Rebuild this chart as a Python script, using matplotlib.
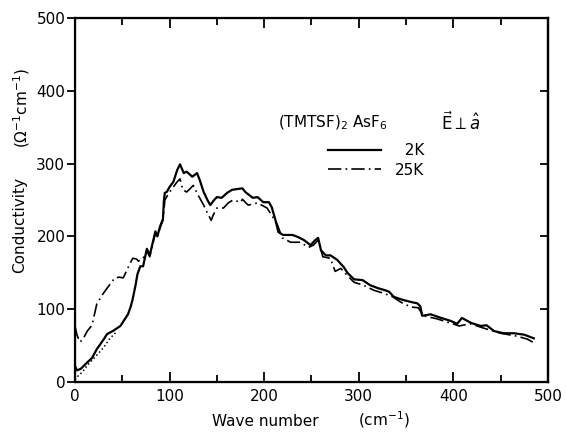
import matplotlib.pyplot as plt
from matplotlib.ticker import MultipleLocator

# 2K curve (solid)
x_2k = [0, 2, 6, 13, 18, 23, 30, 34, 40, 48, 56, 59, 61, 64, 66, 69, 72, 76, 79, 85, 87, 90,
        93, 94, 95, 97, 100, 104, 108, 111, 115, 118, 124, 129, 132, 136, 140, 143, 147, 150,
        155, 161, 166, 171, 177, 180, 188, 193, 199, 205, 208, 212, 215, 220, 230, 236, 242,
        249, 254, 257, 260, 265, 270, 277, 284, 288, 295, 304, 312, 320, 328, 332, 337, 346,
        355, 362, 365, 367, 376, 387, 397, 404, 409, 419, 429, 435, 443, 453, 464, 475, 485]
y_2k = [22, 16, 18, 27, 33, 45, 58, 66, 70, 77, 93, 104, 114, 133, 148, 159, 159, 183, 174,
        207, 200, 214, 224, 250, 260, 261, 268, 275, 291, 299, 287, 289, 282, 287, 277, 261,
        250, 243, 250, 254, 253, 260, 264, 265, 266, 261, 253, 254, 247, 247, 240, 222, 206,
        202, 202, 199, 195, 188, 195, 198, 181, 174, 174, 168, 158, 150, 141, 140, 133, 129,
        126, 124, 117, 113, 110, 108, 104, 91, 93, 88, 84, 80, 88, 81, 77, 78, 70, 67, 67,
        65, 60]

# 25K curve (dash-dot)
x_25k = [0, 2, 5, 8, 13, 18, 23, 29, 34, 38, 42, 47, 51, 56, 61, 65, 67, 72, 76, 79, 85, 87,
         90, 93, 95, 99, 104, 108, 111, 114, 118, 122, 125, 130, 136, 140, 144, 146, 150, 157,
         162, 167, 175, 177, 183, 193, 203, 208, 214, 219, 228, 238, 247, 252, 257, 262, 270,
         275, 281, 288, 295, 305, 316, 326, 336, 344, 355, 363, 368, 382, 397, 406, 418, 432,
         450, 467, 478, 485]
y_25k = [77, 65, 55, 58, 70, 78, 107, 120, 129, 136, 143, 144, 143, 157, 170, 169, 166, 170,
         180, 172, 205, 198, 212, 222, 250, 259, 268, 275, 279, 264, 261, 266, 270, 257, 243,
         232, 222, 229, 239, 239, 246, 250, 247, 251, 243, 246, 239, 229, 216, 198, 192, 192,
         185, 188, 195, 172, 170, 152, 156, 146, 137, 133, 126, 122, 117, 110, 103, 102, 91,
         87, 81, 77, 80, 74, 67, 63, 59, 54]

# low-frequency dotted curve
x_dot = [0, 3, 8, 13, 21, 30, 37, 44]
y_dot = [3, 8, 14, 23, 34, 47, 60, 69]

fig = plt.figure(figsize=(5.66, 4.32), dpi=100)
ax = fig.add_axes([0.1325, 0.1157, 0.8357, 0.8426])

ax.plot(x_2k, y_2k, color='black', lw=1.6, label='  2K')
ax.plot(x_25k, y_25k, color='black', lw=1.2, linestyle=(0, (8, 2.5, 1, 2.5)), label='25K')
ax.plot(x_dot, y_dot, color='black', lw=1.1, linestyle=':')

ax.set_xlim(0, 500)
ax.set_ylim(0, 500)

for s in ax.spines.values():
    s.set_linewidth(1.6)

ax.xaxis.set_major_locator(MultipleLocator(100))
ax.xaxis.set_minor_locator(MultipleLocator(50))
ax.yaxis.set_major_locator(MultipleLocator(100))
ax.tick_params(axis='x', which='both', direction='in', top=True, width=1.3, labelsize=11, pad=5)
ax.tick_params(axis='x', which='major', length=7)
ax.tick_params(axis='x', which='minor', length=5)
ax.tick_params(axis='y', direction='out', right=False, length=6, width=1.3, labelsize=11, pad=1)

# right spine ticks point inward
ax2 = ax.twinx()
ax2.set_ylim(0, 500)
ax2.yaxis.set_major_locator(MultipleLocator(100))
ax2.tick_params(axis='y', direction='in', length=6, width=1.3, labelright=False)
ax2.spines['right'].set_linewidth(1.6)

ax.text(215, 356, '(TMTSF)$_2$ AsF$_6$', fontsize=11, va='center')
ax.text(387, 356, r'$\vec{\mathrm{E}}\perp\hat{a}$', fontsize=12, va='center')

ax.legend(loc='upper left', bbox_to_anchor=(328 / 566, 1 - 143 / 432),
          bbox_transform=fig.transFigure, frameon=False, borderpad=0, borderaxespad=0,
          handlelength=3.5, handletextpad=0.9, labelspacing=0.3, fontsize=11)

fig.text(0.035, 0.479, 'Conductivity', rotation=90, ha='center', va='center', fontsize=11)
fig.text(0.038, 0.75, r'($\Omega^{-1}$cm$^{-1}$)', rotation=90, ha='center', va='center', fontsize=11)
fig.text(0.468, 0.014, 'Wave number', ha='center', va='baseline', fontsize=11)
fig.text(0.678, 0.014, r'(cm$^{-1}$)', ha='center', va='baseline', fontsize=11)

fig.savefig('out.png', dpi=100)
